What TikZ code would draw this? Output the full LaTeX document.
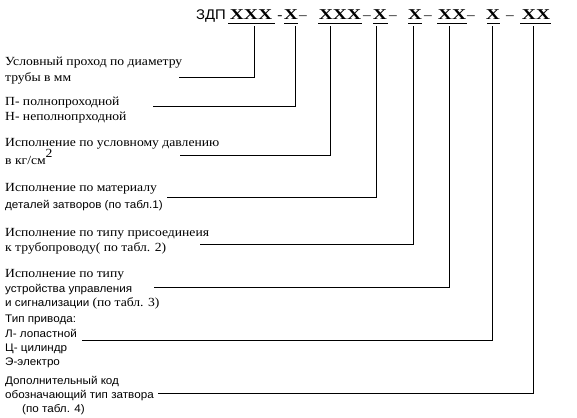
\documentclass[tikz,border=0pt]{standalone}
\usepackage{fontspec}
\setmainfont{Liberation Serif}
\newfontfamily\serf{Liberation Serif}[FakeStretch=1.1]
\newfontfamily\snsf{Liberation Sans}[FakeStretch=1.06]
\newfontfamily\hdrf{Liberation Serif}[FakeStretch=1.3]
\begin{document}
\begin{tikzpicture}[x=1pt,y=-1pt,
  ser/.style={font=\serf\fontsize{12.4}{14}\selectfont, anchor=base west, inner sep=0pt},
  sns/.style={font=\snsf\fontsize{11}{12}\selectfont, anchor=base west, inner sep=0pt},
  hx/.style={font=\hdrf\bfseries\fontsize{15}{16}\selectfont, anchor=base, inner sep=0pt},
  hd/.style={font=\serf\fontsize{14}{16}\selectfont, anchor=base, inner sep=0pt},
  uline/.style={line width=0.9pt},
  conn/.style={line width=0.9pt}]
\useasboundingbox (0,0) rectangle (577,417);
% header
\node[font=\snsf\fontsize{14}{16}\selectfont, anchor=base east, inner sep=0pt] (zdp) at (226,20) {ЗДП};
\node[hx] (g1) at (251,20) {XXX};
\node[hd] (d1) at (280,20) {-};
\node[hx] (g2) at (291,20) {X};
\node[hd] (d2) at (303,20) {–};
\node[hx] (g3) at (340,20) {XXX};
\node[hd] (d3) at (367,20) {–};
\node[hx] (g4) at (380,20) {X};
\node[hd] (d4) at (393,20) {–};
\node[hx] (g5) at (415,20) {X};
\node[hd] (d5) at (428,20) {–};
\node[hx] (g6) at (452,20) {XX};
\node[hd] (d6) at (471,20) {–};
\node[hx] (g7) at (493,20) {X};
\node[hd] (d7) at (510,20) {–};
\node[hx] (g8) at (536,20) {XX};
% underlines
\draw[uline] (228,23) -- (275,23);
\draw[uline] (284,23) -- (298,23);
\draw[uline] (318,23) -- (362,23);
\draw[uline] (373,23) -- (388,23);
\draw[uline] (408,23) -- (422,23);
\draw[uline] (437,23) -- (467,23);
\draw[uline] (487,23) -- (500,23);
\draw[uline] (520,23) -- (551,23);
% connector tops
\coordinate (t1) at (254,26);
\coordinate (t2) at (295,26);
\coordinate (t3) at (330,26);
\coordinate (t4) at (376,26);
\coordinate (t5) at (413,26);
\coordinate (t6) at (449,26);
\coordinate (t7) at (492,26);
\coordinate (t8) at (533,26);
% labels
\node[ser] (a1) at (5,66) {Условный проход по диаметру};
\node[ser] (a2) at (5,82) {трубы в мм};
\node[ser] (b1) at (5,105) {П- полнопроходной};
\node[ser] (b2) at (5,120) {Н- неполнопрходной};
\node[ser] (c1) at (5,146) {Исполнение по условному давлению};
\node[ser] (c2) at (5,164) {в кг/см\raisebox{7pt}{2}};
\node[ser] (e1) at (5,191) {Исполнение по материалу};
\node[sns] (e2) at (5,208) {деталей затворов (по табл.1)};
\node[ser] (f1) at (5,236) {Исполнение по типу присоединеия};
\node[ser] (f2) at (5,251) {к трубопроводу( по табл. 2)};
\node[ser] (h1) at (5,277) {Исполнение по типу};
\node[sns] (h2) at (5,292) {устройства управления};
\node[sns] (h3) at (5,306) {и сигнализации {\serf\fontsize{12.4}{14}\selectfont(по табл. 3)}};
\node[sns] (k1) at (5,322) {Тип привода:};
\node[sns] (k2) at (5,337) {Л- лопастной};
\node[sns] (k3) at (5,351) {Ц- цилиндр};
\node[sns] (k4) at (5,365) {Э-электро};
\node[sns] (m1) at (5,384) {Дополнительный код};
\node[sns] (m2) at (5,398) {обозначающий тип затвора};
\node[sns] (m3) at (22,412) {(по табл. 4)};
% connector starts
\coordinate (s1) at (179,77);
\coordinate (s2) at (153,106);
\coordinate (s3) at (180,155);
\coordinate (s4) at (167,197);
\coordinate (s5) at (200,244);
\coordinate (s6) at (154,287);
\coordinate (s7) at (82,340);
\coordinate (s8) at (158,393);
\draw[conn] (s1) -| (t1);
\draw[conn] (s2) -| (t2);
\draw[conn] (s3) -| (t3);
\draw[conn] (s4) -| (t4);
\draw[conn] (s5) -| (t5);
\draw[conn] (s6) -| (t6);
\draw[conn] (s7) -| (t7);
\draw[conn] (s8) -| (t8);
\end{tikzpicture}
\end{document}
